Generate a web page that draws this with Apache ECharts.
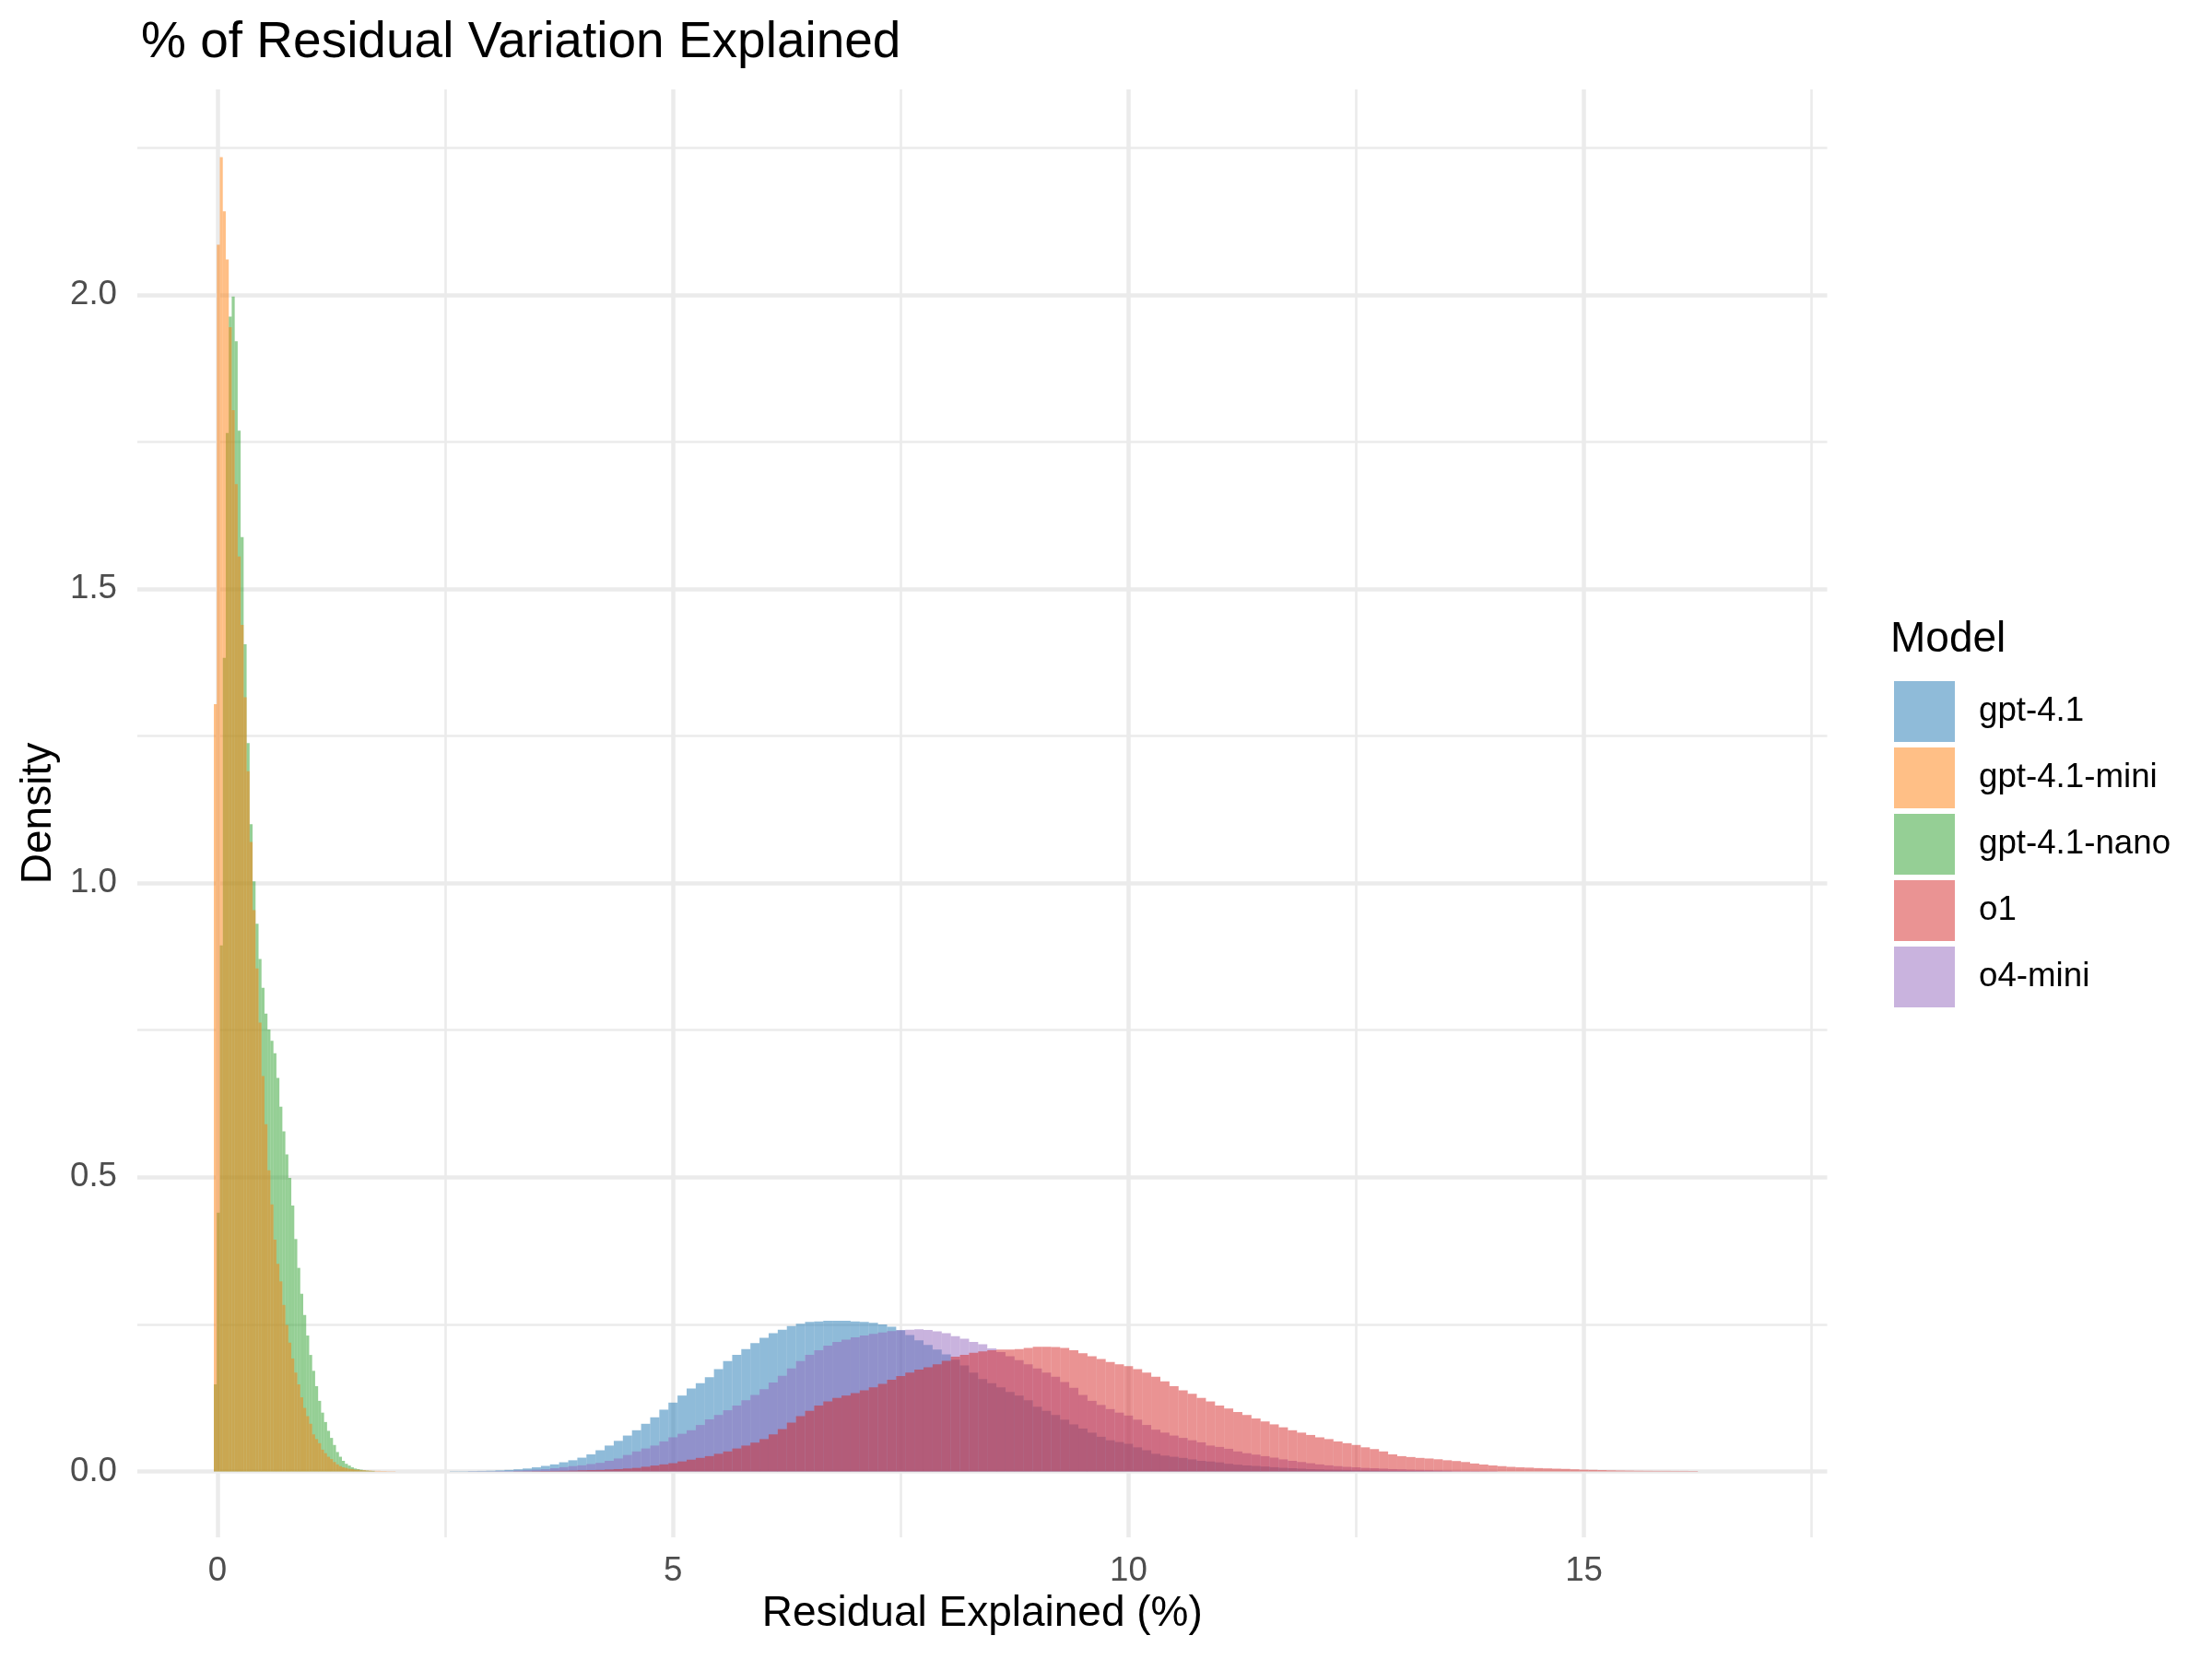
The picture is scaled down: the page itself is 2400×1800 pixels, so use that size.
<!DOCTYPE html>
<html>
<head>
<meta charset="utf-8">
<script src="https://cdn.jsdelivr.net/npm/echarts@6/dist/echarts.min.js"></script>
<style>
  html, body { margin: 0; padding: 0; background: #ffffff; }
  #chart { width: 2400px; height: 1800px; }
</style>
</head>
<body>
<div id="chart"></div>
<script>
// ---------------- Data ----------------
const models = ['gpt-4.1', 'gpt-4.1-mini', 'gpt-4.1-nano', 'o1', 'o4-mini'];
// order in which the overlapping histograms are painted (bottom to top)
const drawOrder = ['gpt-4.1', 'o4-mini', 'o1', 'gpt-4.1-nano', 'gpt-4.1-mini'];

// Narrow distributions: fine bins
const smallBinStart = -0.040;
const smallBinWidth = 0.0327;
const gpt41MiniDensity = [
  1.304, 2.085, 2.234, 2.142, 2.06, 1.945, 1.804, 1.678, 1.555, 1.439,
  1.316, 1.19, 1.07, 0.954, 0.855, 0.763, 0.672, 0.59, 0.512, 0.454,
  0.394, 0.353, 0.323, 0.283, 0.249, 0.219, 0.192, 0.168, 0.148, 0.126,
  0.108, 0.094, 0.081, 0.063, 0.055, 0.048, 0.037, 0.031, 0.025, 0.021,
  0.016, 0.012, 0.009, 0.007, 0.006, 0.0045, 0.004, 0.003, 0.003, 0.002,
  0.002, 0.0015, 0.0015, 0.001, 0.001, 0.001, 0.0008, 0.0008, 0.0005, 0.0005, 0.0005
];
const gpt41NanoDensity = [
  0.148, 0.44, 0.894, 1.383, 1.765, 1.963, 1.997, 1.921, 1.769, 1.588,
  1.406, 1.238, 1.1, 1.003, 0.931, 0.871, 0.822, 0.778, 0.751, 0.732,
  0.711, 0.669, 0.62, 0.578, 0.539, 0.499, 0.452, 0.395, 0.346, 0.302,
  0.266, 0.231, 0.198, 0.171, 0.145, 0.12, 0.1, 0.084, 0.069, 0.057,
  0.045, 0.033, 0.025, 0.018, 0.013, 0.01, 0.007, 0.005, 0.004, 0.003,
  0.002, 0.0015, 0.001, 0.001
];

// Broad distributions: 0.1-wide bins
const broadBinWidth = 0.1;
const gpt41Start = 2.55;
const gpt41Density = [
  0.0005, 0.0005, 0.0007, 0.0009, 0.0012, 0.0018, 0.0026, 0.0036, 0.005, 0.007,
  0.0094, 0.012, 0.0156, 0.019, 0.0234, 0.029, 0.036, 0.044, 0.052, 0.061,
  0.070, 0.081, 0.092, 0.105, 0.117, 0.129, 0.141, 0.150, 0.160, 0.174,
  0.1875, 0.198, 0.208, 0.218, 0.227, 0.235, 0.241, 0.247, 0.251, 0.254,
  0.255, 0.256, 0.256, 0.256, 0.255, 0.254, 0.2526, 0.25, 0.246, 0.24,
  0.232, 0.223, 0.215, 0.207, 0.199, 0.19, 0.18, 0.168, 0.157, 0.15,
  0.143, 0.135, 0.129, 0.121, 0.11, 0.103, 0.096, 0.088, 0.08, 0.073,
  0.066, 0.059, 0.053, 0.05, 0.047, 0.041, 0.036, 0.03, 0.027, 0.025,
  0.023, 0.0205, 0.018, 0.017, 0.0155, 0.013, 0.0115, 0.0102, 0.0094, 0.0084,
  0.0072, 0.0062, 0.0055, 0.0048, 0.004, 0.0035, 0.003, 0.0028, 0.0025, 0.002,
  0.0018, 0.0015, 0.0012, 0.001, 0.0008, 0.0007, 0.0006, 0.0005, 0.0004, 0.0003
];
const o1Start = 3.25;
const o1Density = [
  0.0003, 0.0004, 0.0006, 0.0008, 0.001, 0.0012, 0.0015, 0.002, 0.0023, 0.0026,
  0.0033, 0.004, 0.005, 0.006, 0.008, 0.01, 0.012, 0.014, 0.017, 0.02,
  0.023, 0.026, 0.03, 0.034, 0.039, 0.044, 0.049, 0.055, 0.063, 0.072,
  0.083, 0.094, 0.103, 0.112, 0.119, 0.125, 0.129, 0.133, 0.138, 0.143,
  0.149, 0.156, 0.162, 0.168, 0.173, 0.177, 0.182, 0.188, 0.195, 0.198,
  0.2015, 0.204, 0.206, 0.207, 0.207, 0.208, 0.21, 0.212, 0.212, 0.2115,
  0.21, 0.206, 0.201, 0.196, 0.191, 0.186, 0.182, 0.179, 0.174, 0.168,
  0.161, 0.153, 0.145, 0.138, 0.132, 0.125, 0.119, 0.112, 0.107, 0.101,
  0.096, 0.09, 0.085, 0.08, 0.075, 0.07, 0.066, 0.062, 0.058, 0.055,
  0.051, 0.048, 0.045, 0.041, 0.038, 0.034, 0.029, 0.026, 0.0245, 0.023,
  0.022, 0.0207, 0.019, 0.0177, 0.016, 0.0135, 0.0118, 0.0102, 0.009, 0.0078,
  0.007, 0.0065, 0.0057, 0.0052, 0.0047, 0.0043, 0.0036, 0.003, 0.0027, 0.0023,
  0.0019, 0.0016, 0.0014, 0.0012, 0.0011, 0.001, 0.001, 0.0009, 0.0009, 0.0008
];
const o4MiniStart = 2.75;
const o4MiniDensity = [
  0.0003, 0.0004, 0.0005, 0.0008, 0.001, 0.0015, 0.002, 0.0028, 0.0036, 0.0055,
  0.0073, 0.009, 0.0104, 0.0125, 0.0146, 0.018, 0.022, 0.028, 0.034, 0.039,
  0.044, 0.051, 0.058, 0.064, 0.070, 0.079, 0.0885, 0.096, 0.104, 0.112,
  0.121, 0.130, 0.140, 0.151, 0.1625, 0.175, 0.1875, 0.198, 0.206, 0.214,
  0.22, 0.224, 0.228, 0.231, 0.234, 0.236, 0.2385, 0.240, 0.241, 0.2415,
  0.2405, 0.238, 0.235, 0.23, 0.2255, 0.22, 0.216, 0.209, 0.203, 0.196,
  0.189, 0.182, 0.175, 0.168, 0.161, 0.152, 0.142, 0.13, 0.12, 0.113,
  0.106, 0.1, 0.095, 0.088, 0.079, 0.071, 0.066, 0.061, 0.057, 0.053,
  0.0495, 0.044, 0.0417, 0.0385, 0.034, 0.031, 0.0286, 0.026, 0.0235, 0.0205,
  0.018, 0.016, 0.014, 0.012, 0.0104, 0.009, 0.0078, 0.007, 0.006, 0.0055,
  0.0048, 0.004, 0.0036, 0.003, 0.0026, 0.0022, 0.0018, 0.0015, 0.0012, 0.001,
  0.0008, 0.0006, 0.0005
];

// Axis breaks
const xMajorBreaks = [0, 5, 10, 15];
const xMinorBreaks = [2.5, 7.5, 12.5, 17.5];
const yMajorBreaks = [0, 0.5, 1.0, 1.5, 2.0];
const yMinorBreaks = [0.25, 0.75, 1.25, 1.75, 2.25];

// ---------------- Build ----------------
const fills = {
  'gpt-4.1': 'rgba(31,119,180,0.5)',
  'gpt-4.1-mini': 'rgba(255,127,14,0.5)',
  'gpt-4.1-nano': 'rgba(44,160,44,0.5)',
  'o1': 'rgba(214,39,40,0.5)',
  'o4-mini': 'rgba(148,103,189,0.5)'
};

function bins(start, width, dens) {
  return dens.map((d, i) => [start + i * width, start + (i + 1) * width, d]);
}
const seriesBins = {
  'gpt-4.1': bins(gpt41Start, broadBinWidth, gpt41Density),
  'gpt-4.1-mini': bins(smallBinStart, smallBinWidth, gpt41MiniDensity),
  'gpt-4.1-nano': bins(smallBinStart, smallBinWidth, gpt41NanoDensity),
  'o1': bins(o1Start, broadBinWidth, o1Density),
  'o4-mini': bins(o4MiniStart, broadBinWidth, o4MiniDensity)
};

function renderBin(params, api) {
  const top = api.coord([api.value(0), api.value(2)]);
  const bot = api.coord([api.value(1), 0]);
  return {
    type: 'rect',
    shape: { x: top[0], y: top[1], width: bot[0] - top[0], height: bot[1] - top[1] },
    style: { fill: api.visual('color') }
  };
}

const gridColor = '#EBEBEB';
function gridSeries(xs, ys, width) {
  return {
    type: 'line', data: [], z: 0, silent: true,
    markLine: {
      silent: true, symbol: ['none', 'none'], animation: false, z: 0,
      label: { show: false },
      emphasis: { disabled: true },
      lineStyle: { color: gridColor, width: width, type: 'solid' },
      data: xs.map(v => ({ xAxis: v })).concat(ys.map(v => ({ yAxis: v })))
    }
  };
}
const series = [
  gridSeries(xMinorBreaks, yMinorBreaks, 2.6),
  gridSeries(xMajorBreaks, yMajorBreaks, 4.5)
];
drawOrder.forEach((m, k) => {
  series.push({
    name: m,
    type: 'custom',
    z: 3 + k,
    renderItem: renderBin,
    itemStyle: { color: fills[m] },
    encode: { x: [0, 1], y: 2 },
    data: seriesBins[m],
    animation: false
  });
});

const chart = echarts.init(document.getElementById('chart'), null, { renderer: 'canvas' });
const FONT = 'Liberation Sans, Arial, Helvetica, sans-serif';
chart.setOption({
  backgroundColor: '#ffffff',
  animation: false,
  textStyle: { fontFamily: FONT },
  title: [
    {
      text: '% of Residual Variation Explained',
      left: 148, top: 14,
      textStyle: { fontFamily: FONT, fontSize: 55, fontWeight: 'normal', color: '#000000' }
    },
    {
      text: 'Model',
      left: 2051, top: 671,
      padding: 0,
      textStyle: { fontFamily: FONT, fontSize: 46, fontWeight: 'normal', color: '#000000' }
    }
  ],
  legend: {
    orient: 'vertical',
    left: 2055, top: 739,
    padding: 0,
    itemWidth: 66, itemHeight: 66, itemGap: 6,
    icon: 'rect',
    data: models,
    textStyle: { fontFamily: FONT, fontSize: 36.7, color: '#000000', padding: [3, 0, 0, 21] },
    selectedMode: false
  },
  grid: { left: 149, right: 417.5, top: 97, bottom: 132, containLabel: false },
  xAxis: {
    type: 'value', min: -0.880, max: 17.67,
    name: 'Residual Explained (%)', nameLocation: 'middle', nameGap: 58,
    nameTextStyle: { fontFamily: FONT, fontSize: 46, color: '#000000' },
    axisLine: { show: false }, axisTick: { show: false }, splitLine: { show: false },
    axisLabel: {
      customValues: xMajorBreaks, margin: 18,
      fontFamily: FONT, fontSize: 36.7, color: '#4D4D4D',
      formatter: v => String(v)
    }
  },
  yAxis: {
    type: 'value', min: -0.112, max: 2.349,
    name: 'Density', nameLocation: 'middle', nameGap: 83, nameRotate: 90,
    nameTextStyle: { fontFamily: FONT, fontSize: 46, color: '#000000' },
    axisLine: { show: false }, axisTick: { show: false }, splitLine: { show: false },
    axisLabel: {
      customValues: yMajorBreaks, margin: 22,
      fontFamily: FONT, fontSize: 36.7, color: '#4D4D4D',
      formatter: v => v.toFixed(1)
    }
  },
  series: series
});
</script>
</body>
</html>
